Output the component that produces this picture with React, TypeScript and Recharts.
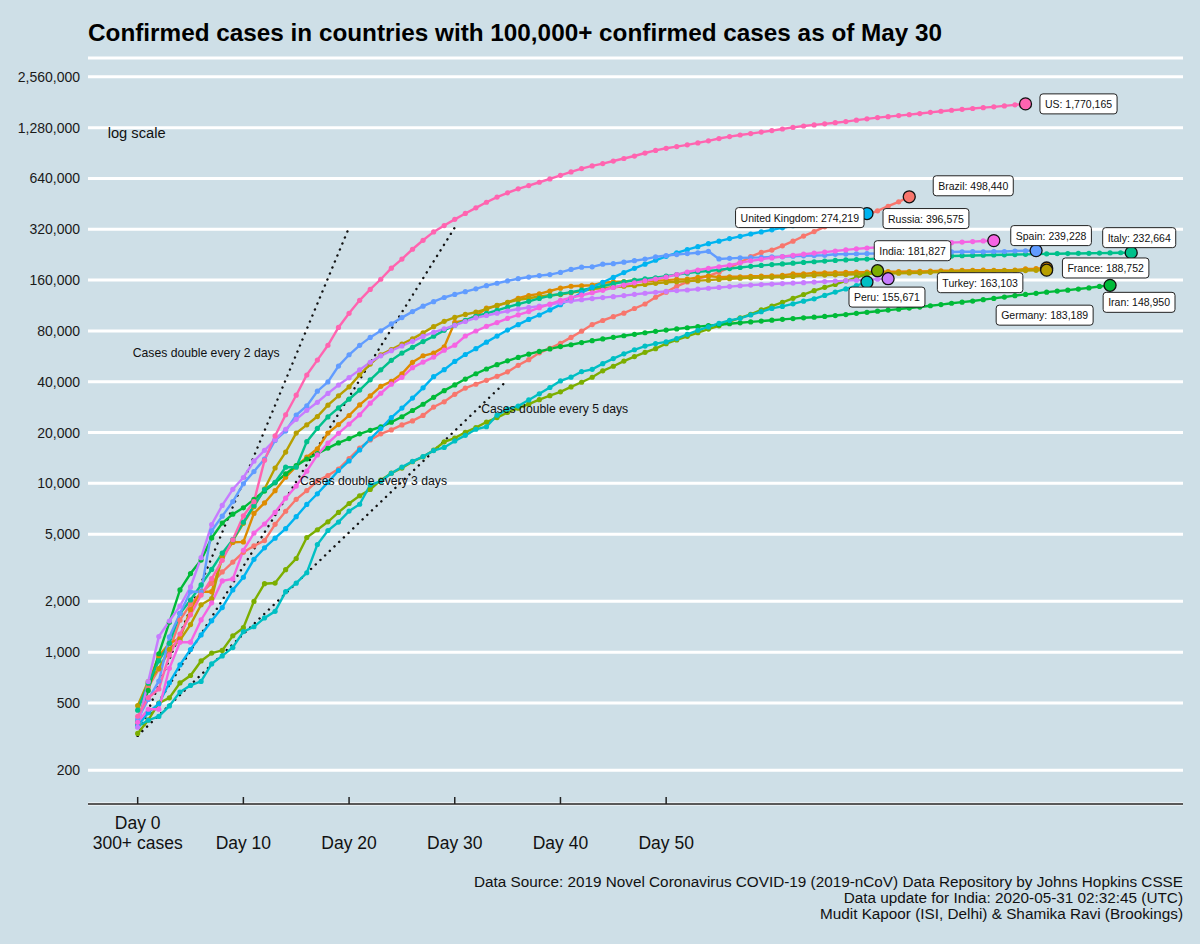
import React from 'react';
import { CartesianGrid, Line, LineChart, ReferenceDot, XAxis, YAxis } from 'recharts';

const FONT = '"Liberation Sans", Arial, Helvetica, sans-serif';
const BG = '#cedfe7';

// cumulative confirmed cases, one value per day counted from the 300+ case mark
const brazilCases = [
  372, 621, 793, 1021, 1546, 1924, 2247, 2554, 2985, 3417,
  3904, 4256, 4579, 5717, 6836, 8044, 9056, 10360, 11130, 12161,
  14034, 16170, 18092, 19638, 20727, 22192, 23430, 25262, 28320, 30425,
  33682, 36658, 38654, 40743, 43079, 45757, 50036, 54043, 59324, 63100,
  67446, 73235, 79685, 87187, 92202, 97100, 101826, 108620, 115455, 126611,
  135773, 146894, 156061, 162699, 169594, 178214, 190137, 203165, 220291, 233511,
  241080, 255368, 271885, 291579, 310087, 330890, 347398, 363211, 374898, 391222,
  411821, 438238, 465166, 498440,
];
const franceCases = [
  377, 653, 949, 1126, 1209, 1784, 2281, 2281, 3661, 4469,
  4499, 6633, 7652, 9043, 10871, 12612, 14282, 16018, 19856, 22304,
  25233, 29155, 32964, 37575, 40174, 44550, 52128, 56989, 59105, 64338,
  89953, 92178, 98010, 109069, 112950, 117749, 124869, 129654, 132591, 137875,
  143303, 147091, 147969, 149232, 154188, 155980, 156921, 159297, 157026, 158636,
  159877, 161644, 162220, 165963, 169053, 166543, 167299, 167305, 168518, 168925,
  169583, 170687, 174191, 174224, 176202, 176782, 177094, 177547, 178349, 178184,
  179365, 179506, 179645, 179927, 180166, 180935, 181700, 182036, 182709, 182913,
  183067, 183038, 182847, 183309, 186364, 186923, 188752,
];
const germanyCases = [
  482, 670, 799, 1040, 1176, 1457, 1908, 2078, 3675, 4585,
  5795, 7272, 9257, 12327, 15320, 19848, 22213, 24873, 29056, 32986,
  37323, 43938, 50871, 57695, 62095, 66885, 71808, 77872, 84794, 91159,
  96092, 100123, 103374, 107663, 113296, 118181, 122171, 124908, 127854, 130072,
  131359, 134753, 137698, 141397, 143342, 145184, 147065, 148291, 150648, 153129,
  154999, 156513, 157770, 158758, 159912, 161539, 163009, 164077, 164967, 165664,
  166152, 167007, 168162, 169430, 170588, 171324, 171879, 172576, 173171, 174098,
  174478, 175233, 175752, 176369, 176551, 177778, 178473, 179021, 179710, 179986,
  180328, 180600, 181200, 181524, 182196, 182922, 183189,
];
const indiaCases = [
  330, 396, 499, 536, 657, 727, 887, 987, 1024, 1251,
  1397, 1998, 2543, 2567, 3082, 3588, 4778, 5311, 5916, 6725,
  7598, 8446, 9205, 10453, 11487, 12322, 13430, 14352, 15722, 17615,
  18539, 20080, 21370, 23077, 24530, 26283, 27890, 29451, 31324, 33062,
  34863, 37257, 39699, 42505, 46437, 49400, 52987, 56351, 59695, 62808,
  67161, 70768, 74292, 78055, 81997, 85784, 90648, 95698, 100328, 106475,
  112028, 118226, 124794, 131423, 138536, 144950, 150793, 158086, 165386, 173491,
  181827,
];
const iranCases = [
  388, 593, 978, 1501, 2336, 2922, 3513, 4747, 5823, 6566,
  7161, 8042, 9000, 10075, 11364, 12729, 13938, 14991, 16169, 17361,
  18407, 19644, 20610, 21638, 23049, 24811, 27017, 29406, 32332, 35408,
  38309, 41495, 44605, 47593, 50468, 53183, 55743, 58226, 60500, 62589,
  64586, 66220, 68192, 70029, 71686, 73303, 74877, 76389, 77995, 79494,
  80868, 82211, 83505, 84802, 85996, 87026, 88194, 89328, 90481, 91472,
  92584, 93657, 94640, 95646, 96448, 97424, 98647, 99970, 101650, 103135,
  104691, 106220, 107603, 109286, 110767, 112725, 114533, 116635, 118392, 120198,
  122492, 124603, 126949, 129341, 131652, 133521, 135701, 137724, 139511, 141591,
  143849, 146668, 148950,
];
const italyCases = [
  453, 655, 888, 1128, 1694, 2036, 2502, 3089, 3858, 4636,
  5883, 7375, 9172, 10149, 12462, 12462, 17660, 21157, 24747, 27980,
  31506, 35713, 41035, 47021, 53578, 59138, 63927, 69176, 74386, 80589,
  86498, 92472, 97689, 101739, 105792, 110574, 115242, 119827, 124632, 128948,
  132547, 135586, 139422, 143626, 147577, 152271, 156363, 159516, 162488, 165155,
  168941, 172434, 175925, 178972, 181228, 183957, 187327, 189973, 192994, 195351,
  197675, 199414, 201505, 203591, 205463, 207428, 209328, 210717, 211938, 213013,
  214457, 215858, 217185, 218268, 219070, 219814, 221216, 222104, 223096, 223885,
  224760, 225435, 225886, 226699, 227364, 228006, 228658, 229327, 229858, 230158,
  230555, 231139, 231732, 232248, 232664,
];
const peruCases = [
  363, 395, 416, 480, 580, 635, 671, 852, 950, 1065,
  1323, 1414, 1595, 1746, 2281, 2561, 2954, 4342, 5256, 5897,
  6848, 7519, 9784, 10303, 11475, 12491, 13489, 14420, 15628, 16325,
  17837, 19250, 20914, 21648, 25331, 27517, 28699, 31190, 33931, 36976,
  40459, 42534, 45928, 47372, 51189, 54817, 58526, 61847, 65015, 67307,
  68822, 72059, 76306, 80604, 84495, 88541, 92273, 94933, 99483, 104020,
  108769, 111698, 115754, 119959, 123979, 129751, 135905, 141779, 148285, 155671,
];
const russiaCases = [
  367, 438, 495, 658, 840, 1036, 1264, 1534, 1836, 2337,
  2777, 3548, 4149, 4731, 5389, 6343, 7497, 8672, 10131, 11917,
  13584, 15770, 18328, 21102, 24490, 27938, 32008, 36793, 42853, 47121,
  52763, 57999, 62773, 68622, 74588, 80949, 87147, 93558, 99399, 106498,
  114431, 124054, 134687, 145268, 155370, 165929, 177160, 187859, 198676, 209688,
  221344, 232243, 242271, 252245, 262843, 272043, 281752, 290678, 299941, 308705,
  317554, 326448, 335882, 344481, 353427, 362342, 370680, 379051, 387623, 396575,
];
const spainCases = [
  401, 525, 674, 1231, 1695, 2277, 2277, 5232, 6391, 7798,
  9942, 11748, 13910, 17963, 20410, 25374, 28768, 35136, 39885, 49515,
  57786, 65719, 73235, 80110, 87956, 95923, 104118, 112065, 119199, 126168,
  131646, 136675, 141942, 148220, 153222, 158273, 163027, 166831, 170099, 172541,
  177644, 184948, 190839, 191726, 198674, 200210, 204178, 208389, 213024, 219764,
  223759, 226629, 229422, 232128, 236899, 213435, 215216, 216582, 217466, 218011,
  219329, 220325, 221447, 222857, 223578, 224350, 227436, 228030, 228691, 229540,
  230183, 230698, 230698, 231606, 232037, 232555, 233037, 234824, 235290, 235772,
  235400, 236259, 236259, 237906, 238564, 239228,
];
const turkeyCases = [
  359, 670, 1236, 1529, 1872, 2433, 3629, 5698, 7402, 9217,
  10827, 13531, 15679, 18135, 20921, 23934, 27069, 30217, 34109, 38226,
  42282, 47029, 52167, 56956, 61049, 65111, 69392, 74193, 78546, 82329,
  86306, 90980, 95591, 98674, 101790, 104912, 107773, 110130, 112261, 114653,
  117589, 120204, 122392, 124375, 126045, 127659, 129491, 131744, 133721, 135569,
  137115, 138657, 139771, 141475, 143114, 144749, 146457, 148067, 149435, 150593,
  151615, 152587, 153548, 154500, 155686, 156827, 157814, 158762, 159797, 160979,
  162120, 163103,
];
const ukCases = [
  384, 459, 459, 802, 1144, 1145, 1551, 1960, 2642, 2716,
  4014, 5067, 5745, 6726, 8164, 9640, 11812, 14745, 17312, 19780,
  22453, 25481, 29865, 34173, 38689, 42477, 48436, 52279, 55949, 61474,
  65872, 74605, 79874, 85206, 89570, 94845, 99483, 104145, 109769, 115314,
  121172, 125856, 130172, 134638, 139246, 144640, 149569, 154037, 158348, 162350,
  166441, 172481, 178685, 183500, 187842, 191832, 196243, 202359, 207977, 212629,
  216525, 220449, 224332, 227741, 230985, 234440, 238004, 241461, 244995, 247709,
  250138, 249619, 252246, 255544, 258504, 261184, 262547, 266599, 268619, 270508,
  272826, 274219,
];
const usCases = [
  417, 537, 605, 959, 1281, 1663, 2179, 2726, 3499, 4632,
  6421, 7786, 13680, 19101, 25493, 33276, 43847, 53740, 65778, 83836,
  101657, 121465, 140909, 161831, 188172, 213242, 243622, 275367, 308650, 336802,
  366317, 397121, 428654, 462780, 496535, 526396, 555313, 580619, 607670, 636350,
  667801, 699706, 732197, 759086, 784326, 811865, 840351, 869170, 905358, 938154,
  965785, 988197, 1012582, 1039909, 1069424, 1103461, 1132539, 1158040, 1180375, 1204351,
  1229331, 1257023, 1283929, 1309550, 1329260, 1347881, 1369376, 1390406, 1417774, 1442824,
  1467820, 1486757, 1508308, 1528568, 1551853, 1577147, 1600937, 1622612, 1643246, 1662302,
  1680913, 1699933, 1721750, 1747087, 1770165,
];

// reference lines: cases at day 0 and at the day each dotted line stops
const doublingLabels = ['Cases double every 2 days', 'Cases double every 3 days', 'Cases double every 5 days'];
const doublingStartCases = [320, 320, 320];
const doublingEndDays = [20, 30, 35];
const doublingEndCases = [327680, 327680, 40960];

const yTicks = [200, 500, 1000, 2000, 5000, 10000, 20000, 40000, 80000, 160000, 320000, 640000, 1280000, 2560000];
const xTicks = [0, 10, 20, 30, 40, 50];

// ggplot hue palette, countries in alphabetical order (drawing order)
const series = [
  { name: 'Brazil', cases: brazilCases, color: '#F8766D', dx: 64, dy: -11 },
  { name: 'France', cases: franceCases, color: '#DE8C00', dx: 59, dy: 0 },
  { name: 'Germany', cases: germanyCases, color: '#B79F00', dx: -2, dy: 45 },
  { name: 'India', cases: indiaCases, color: '#7CAE00', dx: 35, dy: -20 },
  { name: 'Iran', cases: iranCases, color: '#00BA38', dx: 29, dy: 17 },
  { name: 'Italy', cases: italyCases, color: '#00C08B', dx: 8, dy: -15 },
  { name: 'Peru', cases: peruCases, color: '#00BFC4', dx: 20, dy: 15 },
  { name: 'Russia', cases: russiaCases, color: '#00B4F0', dx: 59, dy: 5 },
  { name: 'Spain', cases: spainCases, color: '#619CFF', dx: 15, dy: -15 },
  { name: 'Turkey', cases: turkeyCases, color: '#C77CFF', dx: 92, dy: 4 },
  { name: 'United Kingdom', cases: ukCases, color: '#F564E3', dx: -194, dy: -23 },
  { name: 'US', cases: usCases, color: '#FF64B0', dx: 53, dy: 0 },
];

// annotation anchors (day, cases) for the free text
const notes = [
  { text: 'log scale', day: -2.84, cases: 1190000, size: 14.7 },
  { text: doublingLabels[0], day: -0.47, cases: 59200, size: 12.2 },
  { text: doublingLabels[1], day: 15.36, cases: 10300, size: 12.2 },
  { text: doublingLabels[2], day: 32.5, cases: 27600, size: 12.2 },
];

const fmt = (v: number) => v.toLocaleString('en-US');

let measureCtx: CanvasRenderingContext2D | null = null;
function textWidth(s: string, size: number) {
  if (!measureCtx && typeof document !== 'undefined') {
    measureCtx = document.createElement('canvas').getContext('2d');
  }
  if (measureCtx) {
    measureCtx.font = `${size}px "Liberation Sans"`;
    return measureCtx.measureText(s).width;
  }
  return s.length * size * 0.55;
}

function DayTick(props: any) {
  const { x, y, payload } = props;
  const d = payload.value;
  return (
    <g>
      <line x1={x} x2={x} y1={y} y2={y - 7} stroke="#222" strokeWidth={1.5} />
      {d === 0 ? (
        <>
          <text x={x} y={y + 19} textAnchor="middle" dominantBaseline="central" fontSize={17.5} fontFamily={FONT} fill="#111">
            Day 0
          </text>
          <text x={x} y={y + 39} textAnchor="middle" dominantBaseline="central" fontSize={17.5} fontFamily={FONT} fill="#111">
            300+ cases
          </text>
        </>
      ) : (
        <text x={x} y={y + 39} textAnchor="middle" dominantBaseline="central" fontSize={17.5} fontFamily={FONT} fill="#111">
          {`Day ${d}`}
        </text>
      )}
    </g>
  );
}

function labelShape(text: string, dx: number, dy: number) {
  return (p: any) => {
    const size = 10.5;
    const w = textWidth(text, size) + 10;
    const h = 20;
    const cx = p.cx + dx;
    const cy = p.cy + dy;
    return (
      <g>
        <rect x={cx - w / 2} y={cy - h / 2} width={w} height={h} rx={3} fill="#fff" stroke="#222" strokeWidth={1} />
        <text x={cx} y={cy} textAnchor="middle" dominantBaseline="central" fontSize={size} fontFamily={FONT} fill="#111">
          {text}
        </text>
      </g>
    );
  };
}

function noteShape(text: string, size: number) {
  return (p: any) => (
    <text x={p.cx} y={p.cy} textAnchor="start" dominantBaseline="central" fontSize={size} fontFamily={FONT} fill="#111">
      {text}
    </text>
  );
}

export default function App() {
  return (
    <div style={{ position: 'absolute', left: 0, top: 0, width: 1200, height: 944, background: BG, fontFamily: FONT }}>
      <LineChart width={1200} height={944} margin={{ top: 58, right: 17, bottom: 80, left: 8 }}>
        <CartesianGrid vertical={false} stroke="#ffffff" strokeWidth={3} />
        <XAxis
          type="number"
          dataKey="day"
          domain={[-4.7, 98.9]}
          ticks={xTicks}
          allowDataOverflow
          height={60}
          tickSize={0}
          tickMargin={0}
          tickLine={false}
          axisLine={{ stroke: '#222', strokeWidth: 1.5 }}
          tick={(p: any) => <DayTick {...p} />}
        />
        <YAxis
          type="number"
          scale="log"
          domain={[126, 3310000]}
          allowDataOverflow
          ticks={yTicks}
          tickFormatter={fmt}
          width={80}
          axisLine={false}
          tickLine={false}
          tickSize={0}
          tickMargin={8}
          tick={{ fill: '#1a1a1a', fontSize: 14, fontFamily: FONT }}
        />
        {doublingEndDays.map((endDay, i) => (
          <Line
            key={`dbl-${i}`}
            data={[
              { day: 0, cases: doublingStartCases[i] },
              { day: endDay, cases: doublingEndCases[i] },
            ]}
            dataKey="cases"
            type="linear"
            stroke="#111"
            strokeWidth={2.4}
            strokeDasharray="0.1 6.4"
            strokeLinecap="round"
            dot={false}
            activeDot={false}
            isAnimationActive={false}
          />
        ))}
        {series.map((s) => (
          <Line
            key={s.name}
            data={s.cases.map((v, i) => ({ day: i, cases: v }))}
            dataKey="cases"
            type="linear"
            stroke={s.color}
            strokeWidth={2.4}
            dot={{ r: 2.6, fill: s.color, stroke: s.color, strokeWidth: 0 }}
            activeDot={false}
            isAnimationActive={false}
          />
        ))}
        {series.map((s) => (
          <ReferenceDot
            key={`end-${s.name}`}
            x={s.cases.length - 1}
            y={s.cases[s.cases.length - 1]}
            r={6}
            fill={s.color}
            stroke="#111"
            strokeWidth={1.3}
          />
        ))}
        {series.map((s) => (
          <ReferenceDot
            key={`lab-${s.name}`}
            x={s.cases.length - 1}
            y={s.cases[s.cases.length - 1]}
            r={1}
            shape={labelShape(`${s.name}: ${fmt(s.cases[s.cases.length - 1])}`, s.dx, s.dy)}
          />
        ))}
        {notes.map((n) => (
          <ReferenceDot key={n.text} x={n.day} y={n.cases} r={1} shape={noteShape(n.text, n.size)} />
        ))}
      </LineChart>
      <svg width={1200} height={944} style={{ position: 'absolute', left: 0, top: 0, pointerEvents: 'none' }}>
        <text x={88} y={41} fontSize={24.3} fontWeight="bold" fontFamily={FONT} fill="#000">
          Confirmed cases in countries with 100,000+ confirmed cases as of May 30
        </text>
        <g fontSize={15.3} fontFamily={FONT} fill="#111" textAnchor="end">
          <text x={1183} y={887}>Data Source: 2019 Novel Coronavirus COVID-19 (2019-nCoV) Data Repository by Johns Hopkins CSSE</text>
          <text x={1183} y={903}>Data update for India: 2020-05-31 02:32:45 (UTC)</text>
          <text x={1183} y={919}>Mudit Kapoor (ISI, Delhi) &amp; Shamika Ravi (Brookings)</text>
        </g>
      </svg>
    </div>
  );
}
